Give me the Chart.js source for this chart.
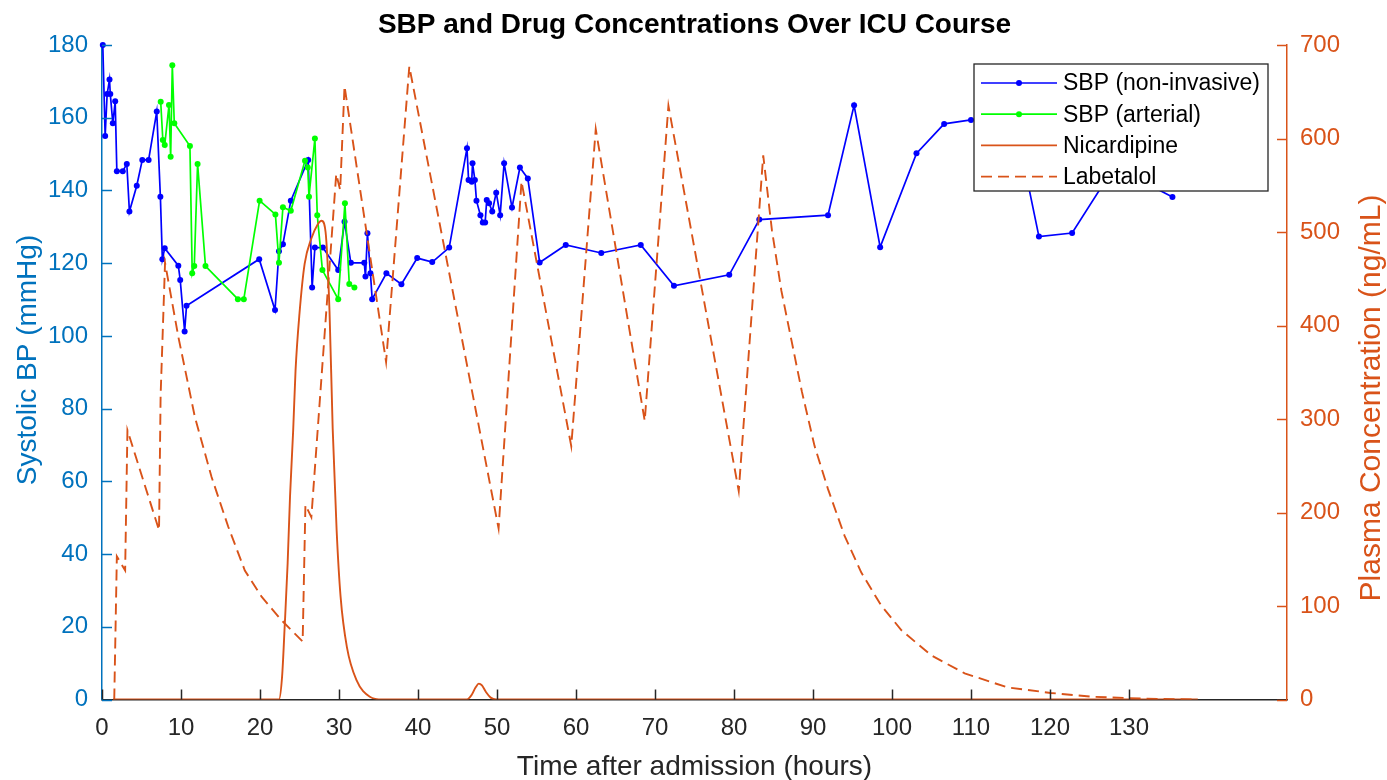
<!DOCTYPE html>
<html>
<head>
<meta charset="utf-8">
<title>SBP and Drug Concentrations Over ICU Course</title>
<script src="https://cdn.jsdelivr.net/npm/chart.js@4.4.1/dist/chart.umd.min.js"></script>
<style>
  html, body { margin: 0; padding: 0; background: #fff; }
  #wrap { width: 1387px; height: 780px; }
</style>
</head>
<body>
<div id="wrap"><canvas id="chart" width="1387" height="780"></canvas></div>
<script>
// non-invasive cuff readings (hours after admission, mmHg)
const nibpTime = [0.1, 0.4, 0.65, 0.95, 1.05, 1.37, 1.67, 1.88, 2.63, 3.14, 3.47, 4.4, 5.1, 5.9, 6.93, 7.39, 7.64, 7.94,
  9.66, 9.9, 10.46, 10.7, 19.9, 21.9, 22.4, 22.9, 23.9, 26.1, 26.6, 26.95, 27.96, 29.9, 30.7, 31.5, 33.2, 33.35, 33.6,
  33.98, 34.2, 36.0, 37.9, 39.9, 41.8, 43.95, 46.2, 46.4, 46.8, 46.9, 47.2, 47.4, 47.9, 48.2, 48.5, 48.7, 49.0, 49.4,
  49.9, 50.4, 50.9, 51.9, 52.9, 53.9, 55.4, 58.7, 63.2, 68.2, 72.4, 79.4, 83.2, 91.9, 95.2, 98.5, 103.1, 106.6, 110.0,
  115.5, 118.6, 122.8, 128.0, 133.0, 135.5];
const nibpSbp = [180, 155, 166.5, 170.5, 166.5, 158.5, 164.5, 145.3, 145.3, 147.3, 134.2, 141.3, 148.4, 148.4, 161.7, 138.3, 121.1, 124.1,
  119.3, 115.4, 101.2, 108.3, 121.1, 107.1, 123.3, 125.2, 137.2, 148.4, 113.3, 124.3, 124.3, 118.1, 131.4, 120.1, 120.1, 116.3, 128.2,
  117.2, 110.1, 117.2, 114.2, 121.4, 120.3, 124.3, 151.6, 142.9, 142.4, 147.5, 142.9, 137.2, 133.2, 131.2, 131.2, 137.4, 136.5, 134.2,
  139.4, 133.2, 147.5, 135.3, 146.3, 143.3, 120.2, 125, 122.8, 125, 113.8, 116.8, 132, 133.2, 163.4, 124.4, 150.2, 158.3, 159.4,
  160, 127.3, 128.3, 146, 141, 138.2];

// arterial line readings
const artTime = [7.43, 7.7, 7.94, 8.48, 8.69, 8.9, 9.15, 11.13, 11.42, 11.68, 12.1, 13.1, 17.2, 17.95, 19.95, 21.95, 22.4,
  22.9, 23.9, 25.7, 26.05, 26.2, 26.95, 27.25, 27.9, 29.9, 30.75, 31.3, 31.95];
const artSbp = [164.4, 153.9, 152.5, 163.5, 149.3, 174.4, 158.5, 152.2, 117.2, 119.2, 147.3, 119.2, 110.1, 110.1, 137.2, 133.4, 120.1,
  135.4, 134.4, 148.2, 146.3, 138.3, 154.3, 133.2, 118.1, 110.1, 136.5, 114.3, 113.3];

// plasma concentrations (ng/mL)
const nicTime = [1.4, 22.4, 22.8, 23.1, 23.5, 23.8, 24.2, 24.5, 25.0, 25.65, 26.5, 27.3, 27.8, 28.3, 28.8, 29.2, 29.7, 30.2,
  31.0, 32.2, 33.9, 35.5, 46.2, 46.8, 47.3, 47.7, 48.1, 48.6, 49.2, 49.9, 138.7];
const nicConc = [0, 0, 25, 74, 146, 217, 288, 352, 413, 466, 493, 508, 512, 500, 415, 290, 181, 110,
  56, 21, 3, 0, 0, 5, 13, 17, 15, 8, 2, 0, 0];

const labTime = [1.55, 1.88, 2.93, 3.22, 7.22, 7.42, 7.98, 9.66, 11.76, 13.87, 15.97, 18.08, 20.2, 22.7, 25.4, 25.75, 26.5,
  29.65, 30.15, 30.7, 35.96, 38.9, 50.2, 53.1, 59.4, 62.5, 68.7, 71.7, 80.6, 83.7, 84.8, 86.0, 87.3, 88.6, 90.2, 91.9,
  94.0, 96.1, 98.6, 101.2, 105.0, 109.2, 114.6, 120.1, 125.2, 131.5, 138.7];
const labConc = [0, 153, 138, 288, 181, 325, 467, 388, 302, 238, 185, 138, 110, 85, 62, 208, 195,
  562, 545, 656, 361, 677, 183, 554, 271, 610, 298, 635, 223, 582, 502, 437, 383, 329, 271, 225,
  175, 136, 101, 74, 47, 28, 13, 7, 3, 1, 0];

const xTickValues = [0, 10, 20, 30, 40, 50, 60, 70, 80, 90, 100, 110, 120, 130];

const FONT = '"Liberation Sans", Arial, Helvetica, sans-serif';
const blue = '#0000FF';
const green = '#00FF00';
const orange = '#D95319';
const leftColor = '#0072BD';
const axisGray = '#262626';

function toPoints(xs, ys) {
  return xs.map((x, i) => ({ x: x, y: ys[i] }));
}

// MATLAB style tick marks pointing into the axes
const innerTicks = {
  id: 'innerTicks',
  afterDatasetsDraw(chart) {
    const { ctx, chartArea: a, scales } = chart;
    ctx.save();
    ctx.lineWidth = 1.5;
    ctx.strokeStyle = axisGray;
    scales.x.ticks.forEach(t => {
      const px = Math.round(scales.x.getPixelForValue(t.value)) + 0.5;
      ctx.beginPath(); ctx.moveTo(px, a.bottom); ctx.lineTo(px, a.bottom - 10); ctx.stroke();
    });
    ctx.strokeStyle = leftColor;
    scales.y.ticks.forEach(t => {
      const py = Math.round(scales.y.getPixelForValue(t.value)) + 0.5;
      ctx.beginPath(); ctx.moveTo(a.left, py); ctx.lineTo(a.left + 10, py); ctx.stroke();
    });
    ctx.strokeStyle = orange;
    scales.y1.ticks.forEach(t => {
      const py = Math.round(scales.y1.getPixelForValue(t.value)) + 0.5;
      ctx.beginPath(); ctx.moveTo(a.right, py); ctx.lineTo(a.right - 10, py); ctx.stroke();
    });
    ctx.restore();
  }
};

// titles drawn by hand so the right label reads bottom-to-top like the original
const titles = {
  id: 'titles',
  afterDraw(chart) {
    const { ctx, chartArea: a } = chart;
    const cx = (a.left + a.right) / 2;
    ctx.save();
    ctx.textAlign = 'center';
    ctx.textBaseline = 'middle';
    ctx.fillStyle = '#000';
    ctx.font = 'bold 28px ' + FONT;
    ctx.fillText('SBP and Drug Concentrations Over ICU Course', cx, 25);
    ctx.font = '28px ' + FONT;
    ctx.fillStyle = axisGray;
    ctx.fillText('Time after admission (hours)', cx, 767);

    ctx.save();
    ctx.translate(28, 360);
    ctx.rotate(-Math.PI / 2);
    ctx.fillStyle = leftColor;
    ctx.fillText('Systolic BP (mmHg)', 0, 0);
    ctx.restore();

    ctx.save();
    ctx.translate(1372, 398);
    ctx.rotate(-Math.PI / 2);
    ctx.font = '30px ' + FONT;
    ctx.fillStyle = orange;
    ctx.fillText('Plasma Concentration (ng/mL)', 0, 0);
    ctx.restore();
    ctx.restore();
  }
};

// boxed legend sitting inside the plot, top right
const boxLegend = {
  id: 'boxLegend',
  afterDraw(chart) {
    const { ctx, chartArea: a } = chart;
    const w = 294, h = 127;
    const x = a.right - 19 - w, y = a.top + 19;
    ctx.save();
    ctx.fillStyle = '#fff';
    ctx.fillRect(x, y, w, h);
    ctx.strokeStyle = axisGray;
    ctx.lineWidth = 1.3;
    ctx.strokeRect(x, y, w, h);
    ctx.font = '23px ' + FONT;
    ctx.textBaseline = 'middle';
    ctx.textAlign = 'left';
    chart.data.datasets.forEach((ds, i) => {
      const ly = y + 19 + i * 31.2;
      ctx.strokeStyle = ds.borderColor;
      ctx.lineWidth = ds.borderWidth;
      ctx.setLineDash(ds.borderDash || []);
      ctx.beginPath(); ctx.moveTo(x + 7, ly); ctx.lineTo(x + 83, ly); ctx.stroke();
      ctx.setLineDash([]);
      if (ds.pointRadius) {
        ctx.fillStyle = ds.borderColor;
        ctx.beginPath(); ctx.arc(x + 45, ly, ds.pointRadius, 0, Math.PI * 2); ctx.fill();
      }
      ctx.fillStyle = '#000';
      ctx.fillText(ds.label, x + 89, ly + 1);
    });
    ctx.restore();
  }
};

const ctx = document.getElementById('chart').getContext('2d');
new Chart(ctx, {
  type: 'line',
  data: {
    datasets: [
      {
        label: 'SBP (non-invasive)',
        data: toPoints(nibpTime, nibpSbp),
        yAxisID: 'y',
        borderColor: blue,
        backgroundColor: blue,
        pointBackgroundColor: blue,
        borderWidth: 1.7,
        pointRadius: 3,
        pointBorderWidth: 0,
        tension: 0,
        clip: false,
        order: 4
      },
      {
        label: 'SBP (arterial)',
        data: toPoints(artTime, artSbp),
        yAxisID: 'y',
        borderColor: green,
        backgroundColor: green,
        pointBackgroundColor: green,
        borderWidth: 1.7,
        pointRadius: 3,
        pointBorderWidth: 0,
        tension: 0,
        clip: false,
        order: 3
      },
      {
        label: 'Nicardipine',
        data: toPoints(nicTime, nicConc),
        yAxisID: 'y1',
        borderColor: orange,
        borderWidth: 1.9,
        pointRadius: 0,
        cubicInterpolationMode: 'monotone',
        order: 2
      },
      {
        label: 'Labetalol',
        data: toPoints(labTime, labConc),
        yAxisID: 'y1',
        borderColor: orange,
        borderWidth: 1.9,
        borderDash: [11, 6],
        pointRadius: 0,
        tension: 0,
        order: 1
      }
    ]
  },
  options: {
    responsive: false,
    animation: false,
    devicePixelRatio: 1,
    layout: { padding: { top: 45, left: 0, right: 0, bottom: 0 } },
    plugins: {
      legend: { display: false },
      title: { display: false },
      tooltip: { enabled: false }
    },
    scales: {
      x: {
        type: 'linear',
        min: 0,
        max: 150,
        afterBuildTicks: s => { s.ticks = xTickValues.map(v => ({ value: v })); },
        afterFit: s => { s.height = 80.5; },
        grid: { display: false, drawTicks: false },
        border: { display: true, color: axisGray, width: 1.5 },
        ticks: { color: axisGray, padding: 14, maxRotation: 0, font: { family: FONT, size: 24 } }
      },
      y: {
        position: 'left',
        min: 0,
        max: 180,
        afterFit: s => { s.width = 102; },
        grid: { display: false, drawTicks: false },
        border: { display: true, color: leftColor, width: 1.5 },
        ticks: { stepSize: 20, color: leftColor, padding: 14, font: { family: FONT, size: 24 } }
      },
      y1: {
        position: 'right',
        min: 0,
        max: 700,
        afterFit: s => { s.width = 100; },
        grid: { display: false, drawTicks: false },
        border: { display: true, color: orange, width: 1.5 },
        ticks: { stepSize: 100, color: orange, padding: 13, font: { family: FONT, size: 24 } }
      }
    }
  },
  plugins: [innerTicks, titles, boxLegend]
});
</script>
</body>
</html>
